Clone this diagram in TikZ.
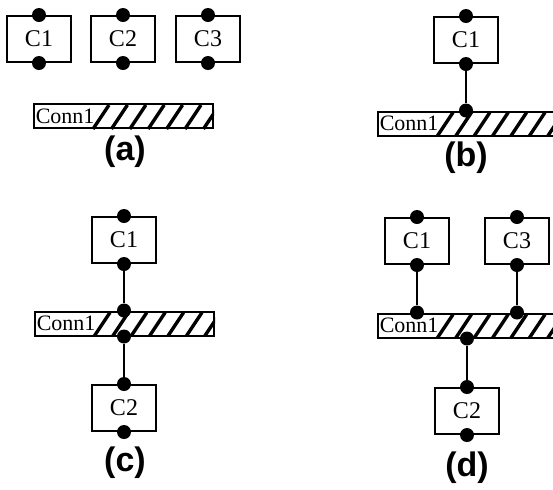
\documentclass[tikz,border=0pt]{standalone}
\usepackage{fontspec}
\setmainfont{Liberation Serif}
\newfontfamily\capfont{Liberation Sans}
\begin{document}
\begin{tikzpicture}[x=0.5pt, y=-0.5pt,
    comp/.style={draw, line width=1pt, minimum width=32pt, minimum height=23pt,
      inner sep=0pt, font=\fontsize{12}{14}\selectfont},
    pin/.style={circle, fill=black, inner sep=0pt, minimum size=7pt},
    bus/.style={draw, line width=1pt, minimum width=89.5pt, minimum height=12pt, inner sep=0pt},
    bustext/.style={anchor=west, inner sep=1.2pt, font=\fontsize{11}{12}\selectfont},
    wire/.style={line width=1pt},
    stripe/.style={line width=1.7pt},
    caption/.style={font=\capfont\bfseries\fontsize{17}{19}\selectfont}]
    \useasboundingbox (0,0) rectangle (553,489);

    % (a)
    \node[comp] (a1) at (39,39) {C1};
    \node[comp] (a2) at (123,39) {C2};
    \node[comp] (a3) at (208,39) {C3};
    \node[bus] (ba) at (123.5,116) {};
    \node[bustext] (ta) at (ba.west) {Conn1};
    \node[caption] (la) at (125,152) {(a)};

    % (b)
    \node[comp] (b1) at (466,40) {C1};
    \node[bus] (bb) at (467.5,123.5) {};
    \node[bustext] (tb) at (bb.west) {Conn1};
    \node[caption] (lb) at (466,158) {(b)};

    % (c)
    \node[comp] (c1) at (124,240) {C1};
    \node[bus] (bc) at (124.5,323.5) {};
    \node[bustext] (tc) at (bc.west) {Conn1};
    \node[comp] (c2) at (124,408) {C2};
    \node[caption] (lc) at (125,463) {(c)};

    % (d)
    \node[comp] (d1) at (417,241) {C1};
    \node[comp] (d3) at (517,241) {C3};
    \node[bus] (bd) at (467.5,325.5) {};
    \node[bustext] (td) at (bd.west) {Conn1};
    \node[comp] (d2) at (467,411) {C2};
    \node[caption] (ld) at (467,468) {(d)};

    % hatching of the connectors
    \foreach \b in {ba,bb,bc,bd} {
      \begin{scope}
        \clip ([xshift=29pt]\b.south west) rectangle (\b.north east);
        \foreach \k in {0,...,8}
          \draw[stripe] ([xshift=30pt+9.2pt*\k]\b.south west) -- ++(16,-24);
      \end{scope}
    }

    % pins
    \foreach \c in {a1,a2,a3,b1,c1,c2,d1,d2,d3} {
      \node[pin] (\c-t) at (\c.north) {};
      \node[pin] (\c-b) at (\c.south) {};
    }
    \node[pin] (bp) at (b1 |- bb.north) {};
    \node[pin] (cp1) at (c1 |- bc.north) {};
    \node[pin] (cp2) at (c2 |- bc.south) {};
    \node[pin] (dp1) at (d1 |- bd.north) {};
    \node[pin] (dp3) at (d3 |- bd.north) {};
    \node[pin] (dp2) at (d2 |- bd.south) {};

    % wires
    \draw[wire] (b1-b) -- (bp);
    \draw[wire] (c1-b) -- (cp1);
    \draw[wire] (cp2) -- (c2-t);
    \draw[wire] (d1-b) -- (dp1);
    \draw[wire] (d3-b) -- (dp3);
    \draw[wire] (dp2) -- (d2-t);
  \end{tikzpicture}
\end{document}
